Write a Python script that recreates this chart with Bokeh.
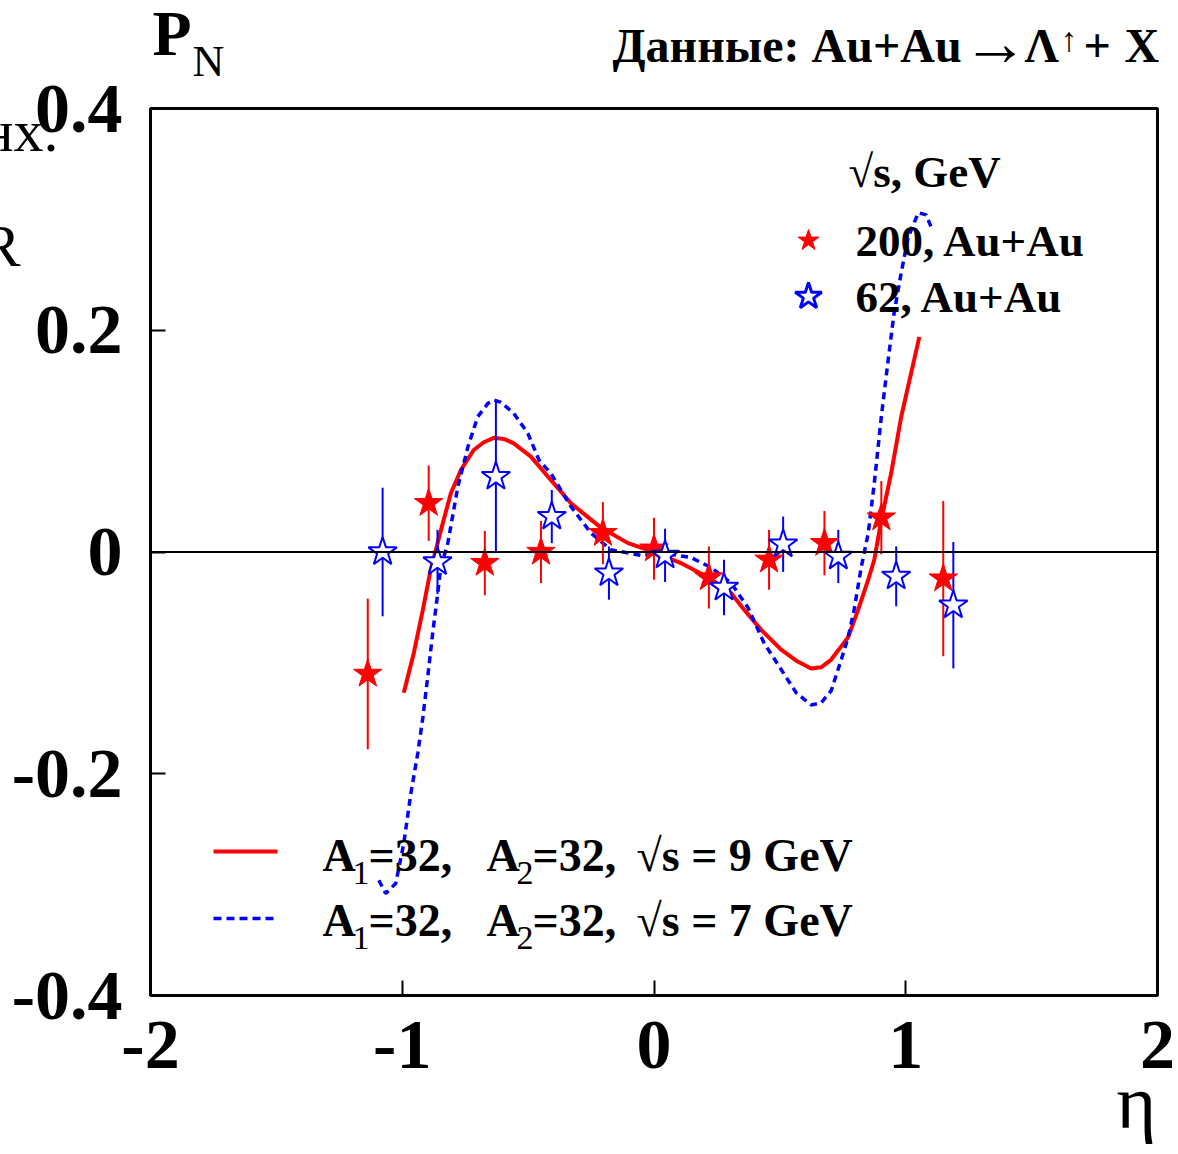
from bokeh.plotting import figure
from bokeh.models import Span, FixedTicker
from bokeh.core.properties import value
from bokeh.embed import file_html
from bokeh.resources import INLINE

# Lambda polarization P_N versus pseudorapidity eta, Au+Au data
eta_200 = [-1.137, -0.895, -0.672, -0.449, -0.203, 0.000, 0.218, 0.457, 0.677, 0.903, 1.149]
pn_200 = [-0.110, 0.044, -0.010, 0.000, 0.017, 0.003, -0.023, -0.007, 0.008, 0.031, -0.024]
err_200 = [0.068, 0.034, 0.029, 0.028, 0.028, 0.028, 0.028, 0.027, 0.029, 0.033, 0.070]

eta_62 = [-1.078, -0.860, -0.628, -0.406, -0.179, 0.044, 0.278, 0.513, 0.732, 0.962, 1.189]
pn_62 = [0.000, -0.009, 0.068, 0.032, -0.019, -0.003, -0.032, 0.007, -0.004, -0.022, -0.048]
err_62 = [0.058, 0.029, 0.068, 0.024, 0.024, 0.024, 0.025, 0.025, 0.024, 0.027, 0.057]

# model curves, A1 = A2 = 32
eta_9gev = [-0.994, -0.954, -0.918, -0.887, -0.839, -0.807, -0.767, -0.716, -0.676, -0.636,
            -0.597, -0.557, -0.489, -0.410, -0.330, -0.211, -0.103, 0.000, 0.107, 0.215,
            0.306, 0.358, 0.425, 0.505, 0.565, 0.624, 0.664, 0.704, 0.771, 0.811,
            0.851, 0.875, 0.903, 0.942, 0.982, 1.022, 1.054]
pn_9gev = [-0.127, -0.091, -0.052, -0.016, 0.026, 0.053, 0.074, 0.092, 0.099, 0.103,
           0.102, 0.098, 0.086, 0.065, 0.044, 0.022, 0.008, 0.000, -0.010, -0.023,
           -0.037, -0.052, -0.070, -0.088, -0.098, -0.105, -0.104, -0.097, -0.077, -0.052,
           -0.025, -0.007, 0.029, 0.071, 0.122, 0.162, 0.194]

eta_7gev = [-1.093, -1.066, -1.026, -0.994, -0.966, -0.938, -0.918, -0.899, -0.879, -0.859,
            -0.847, -0.819, -0.779, -0.739, -0.700, -0.660, -0.634, -0.608, -0.557, -0.501,
            -0.457, -0.410, -0.330, -0.250, -0.171, -0.052, 0.040, 0.147, 0.227, 0.306,
            0.373, 0.437, 0.505, 0.565, 0.624, 0.664, 0.704, 0.744, 0.771, 0.795,
            0.823, 0.851, 0.875, 0.903, 0.930, 0.954, 0.982, 1.010, 1.050, 1.081, 1.101]
pn_7gev = [-0.296, -0.308, -0.299, -0.263, -0.218, -0.181, -0.149, -0.113, -0.073, -0.037,
           -0.014, 0.008, 0.059, 0.095, 0.122, 0.134, 0.137, 0.135, 0.125, 0.107,
           0.083, 0.071, 0.041, 0.017, 0.002, -0.003, -0.001, -0.005, -0.014, -0.028,
           -0.050, -0.082, -0.106, -0.127, -0.138, -0.136, -0.125, -0.097, -0.077, -0.052,
           -0.014, 0.017, 0.062, 0.122, 0.173, 0.216, 0.252, 0.284, 0.306, 0.304, 0.293]

x_ticks = [-2, -1, 0, 1, 2]
x_tick_labels = ["-2", "-1", "0", "1", "2"]
y_ticks = [-0.4, -0.2, 0, 0.2, 0.4]
y_tick_labels = ["-0.4", "-0.2", "0", "0.2", "0.4"]

SERIF = "Liberation Serif"
RED = "#ff0000"
BLUE = "#0000ff"

W, H = 1178, 1154
FL, FR, FT, FB = 150, 1157, 108, 995
XR, YR = (-2, 2), (-0.4, 0.4)

p = figure(width=W, height=H, x_range=XR, y_range=YR,
           output_backend="svg", toolbar_location=None,
           min_border_left=FL, min_border_right=W - FR,
           min_border_top=FT, min_border_bottom=H - FB)
p.background_fill_color = "white"
p.border_fill_color = "white"
p.outline_line_color = "black"
p.outline_line_width = 3
p.grid.visible = False

for ax in (p.xaxis[0], p.yaxis[0]):
    ax.axis_line_color = None
    ax.major_tick_in = 15
    ax.major_tick_out = 0
    ax.major_tick_line_width = 2
    ax.major_tick_line_color = "black"
    ax.minor_tick_line_color = None
    ax.major_label_text_font = SERIF
    ax.major_label_text_font_style = "bold"
    ax.major_label_text_font_size = "70px"
    ax.major_label_text_color = "black"

p.xaxis.ticker = FixedTicker(ticks=x_ticks)
p.xaxis.major_label_overrides = dict(zip(x_ticks, x_tick_labels))
p.xaxis.major_label_standoff = 26
p.yaxis.ticker = FixedTicker(ticks=y_ticks)
p.yaxis.major_label_overrides = dict(zip(y_ticks, y_tick_labels))
p.yaxis.major_label_standoff = 28


def at(cx, cy):
    """canvas pixel -> data coordinates, for decorations placed around the frame"""
    x = XR[0] + (cx - FL) * (XR[1] - XR[0]) / (FR - FL)
    y = YR[1] - (cy - FT) * (YR[1] - YR[0]) / (FB - FT)
    return x, y


def text(s, cx, base, size, style="bold", align="left", font=SERIF):
    # text on the overlay level so it is not clipped to the frame;
    # base is the wanted baseline in canvas pixels
    x, y = at(cx, base - 0.37 * size)
    p.text(x=[x], y=[y], text=[s], text_font=value(font), text_font_style=style,
           text_font_size=f"{size}px", text_color="black",
           text_align=align, text_baseline="alphabetic", level="overlay")


# zero line
p.add_layout(Span(location=0, dimension="width", line_color="black", line_width=2))

# model curves
p.line(eta_9gev, pn_9gev, line_color=RED, line_width=4)
p.line(eta_7gev, pn_7gev, line_color=BLUE, line_width=3.5, line_dash="7 5")

# data with error bars
p.segment(eta_200, [v - e for v, e in zip(pn_200, err_200)],
          eta_200, [v + e for v, e in zip(pn_200, err_200)],
          line_color=RED, line_width=2)
p.segment(eta_62, [v - e for v, e in zip(pn_62, err_62)],
          eta_62, [v + e for v, e in zip(pn_62, err_62)],
          line_color=BLUE, line_width=2)
p.scatter(eta_200, pn_200, marker="star", size=30, fill_color=RED, line_color=RED, line_width=1)
p.scatter(eta_62, pn_62, marker="star", size=30, fill_color="white", line_color=BLUE, line_width=2)

# axis titles and header
text("P", 152, 57, 64)
text("N", 192, 77, 44, style="normal")
text("\u03b7", 1116, 1130, 76, style="normal")
text("Данные: Au+Au", 612, 63, 48)
text("\u2192", 962, 66, 66, style="normal")
text("\u039b", 1024, 63, 48)
text("\u2191", 1060, 52, 34, style="normal")
text("+", 1083, 63, 48)
text("X", 1124, 63, 48)

# fragments of neighbouring slide text
text("нх.", 58, 153, 60, style="normal", align="right")
text("R", -20, 268, 60, style="normal")

# data legend
text("\u221as, GeV", 848, 188, 45)
text("200, Au+Au", 855, 257, 45)
text("62, Au+Au", 855, 313, 45)
lx, ly1 = at(808, 240)
_, ly2 = at(808, 296)
p.scatter([lx], [ly1], marker="star", size=22, fill_color=RED, line_color=RED)
p.scatter([lx], [ly2], marker="star", size=28, fill_color="white", line_color=BLUE, line_width=3)

# model legend
xa, ya1 = at(213, 851)
xb, ya2 = at(277, 918)
p.line([xa, xb], [ya1, ya1], line_color=RED, line_width=4)
p.line([xa, xb], [ya2, ya2], line_color=BLUE, line_width=3.5, line_dash="8 5")
for base, energy in ((872, "9"), (937, "7")):
    text("A", 322, base, 46)
    text("1", 352, base + 13, 34, style="normal")
    text("=32,", 368, base, 46)
    text("A", 486, base, 46)
    text("2", 516, base + 13, 34, style="normal")
    text("=32,", 532, base, 46)
    text(f"\u221as = {energy} GeV", 636, base, 46)

open("out.html", "w").write(file_html(p, INLINE))
